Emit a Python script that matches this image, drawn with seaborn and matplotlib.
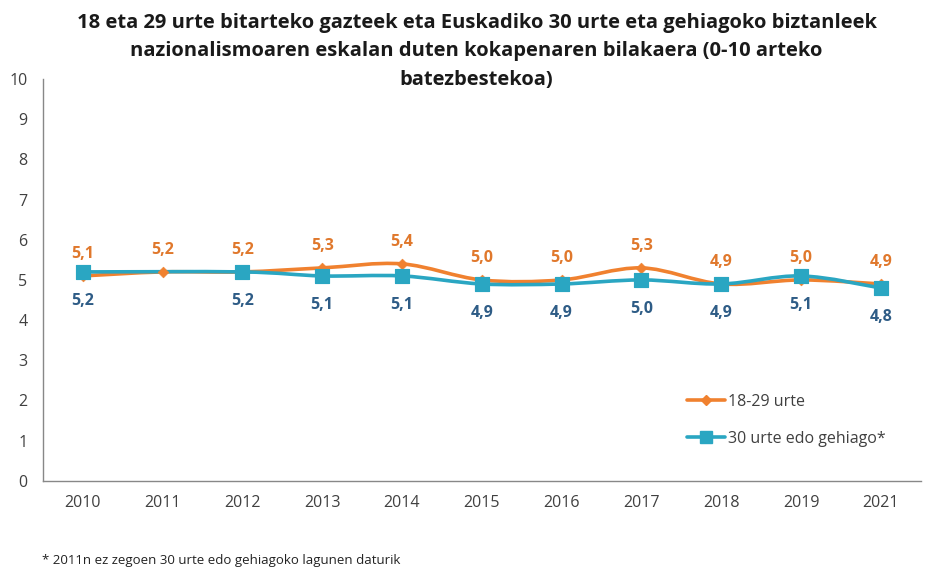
import numpy as np
import pandas as pd
import matplotlib
matplotlib.use("Agg")
import matplotlib.pyplot as plt
from matplotlib.path import Path
from matplotlib.patches import PathPatch
import seaborn as sns

years = ["2010", "2011", "2012", "2013", "2014", "2015", "2016", "2017", "2018", "2019", "2021"]
young = [5.1, 5.2, 5.2, 5.3, 5.4, 5.0, 5.0, 5.3, 4.9, 5.0, 4.9]
older = [5.2, np.nan, 5.2, 5.1, 5.1, 4.9, 4.9, 5.0, 4.9, 5.1, 4.8]

title = ("18 eta 29 urte bitarteko gazteek eta Euskadiko 30 urte eta gehiagoko biztanleek\n"
         "nazionalismoaren eskalan duten kokapenaren bilakaera (0-10 arteko\n"
         "batezbestekoa)")
note = "* 2011n ez zegoen 30 urte edo gehiagoko lagunen daturik"

orange = "#F0812F"
teal = "#2AA6C2"
orange_txt = "#E0782C"
blue_txt = "#2E5C86"
grey = "#404040"

sns.set_style("white")
plt.rcParams["font.family"] = ["Open Sans", "DejaVu Sans"]

df = pd.DataFrame({"pos": range(len(years)), "year": years,
                   "18-29 urte": young, "30 urte edo gehiago*": older})


def smooth_path(xs, ys):
    # excel-like smoothed line: catmull-rom as cubic bezier
    pts = [(x, y) for x, y in zip(xs, ys) if not np.isnan(y)]
    pts = np.array(pts, dtype=float)
    verts = [pts[0]]
    codes = [Path.MOVETO]
    n = len(pts)
    for i in range(n - 1):
        p0 = pts[max(i - 1, 0)]
        p1 = pts[i]
        p2 = pts[i + 1]
        p3 = pts[min(i + 2, n - 1)]
        c1 = p1 + (p2 - p0) / 6
        c2 = p2 - (p3 - p1) / 6
        verts += [c1, c2, p2]
        codes += [Path.CURVE4] * 3
    return Path(verts, codes)


fig, ax = plt.subplots(figsize=(9.31, 5.69), dpi=100)
fig.subplots_adjust(left=0.046, right=0.989, bottom=0.155, top=0.861)

ax.add_patch(PathPatch(smooth_path(df["pos"], df["18-29 urte"]), fill=False,
                       edgecolor=orange, lw=2.6, zorder=2))
ax.add_patch(PathPatch(smooth_path(df["pos"], df["30 urte edo gehiago*"]), fill=False,
                       edgecolor=teal, lw=2.6, zorder=2))

sns.scatterplot(data=df, x="pos", y="18-29 urte", marker="D", s=30, color=orange,
                edgecolor=orange, ax=ax, zorder=3)
sns.scatterplot(data=df, x="pos", y="30 urte edo gehiago*", marker="s", s=110, color=teal,
                edgecolor=teal, ax=ax, zorder=4)

for x, v in zip(df["pos"], young):
    ax.annotate(f"{v:.1f}".replace(".", ","), (x, v), xytext=(0, 16), textcoords="offset points",
                ha="center", va="center", color=orange_txt, fontsize=11.5, fontweight="bold")
for x, v in zip(df["pos"], older):
    if np.isnan(v):
        continue
    ax.annotate(f"{v:.1f}".replace(".", ","), (x, v), xytext=(0, -21), textcoords="offset points",
                ha="center", va="center", color=blue_txt, fontsize=11.5, fontweight="bold")

# legend with line+marker handles
h1, = ax.plot([], [], color=orange, lw=2.6, marker="D", ms=5, label="18-29 urte")
h2, = ax.plot([], [], color=teal, lw=2.6, marker="s", ms=9, label="30 urte edo gehiago*")
leg = ax.legend(handles=[h1, h2], loc="upper left", bbox_to_anchor=(0.717, 0.252), frameon=False,
                fontsize=11.5, handlelength=2.4, labelspacing=1.3, handletextpad=0.2)
for t in leg.get_texts():
    t.set_color(grey)

ax.set_xlim(-0.5, len(years) - 0.5)
ax.set_ylim(0, 10)
ax.set_yticks(range(0, 11))
ax.set_xticks(df["pos"])
ax.set_xticklabels(years)
ax.set_xticks(np.arange(-0.5, len(years), 1.0), minor=True)
ax.tick_params(axis="x", which="major", length=0, pad=10, labelsize=11.5, colors=grey)
ax.tick_params(axis="x", which="minor", length=5, width=1, color="#888888", direction="out")
ax.tick_params(axis="y", length=5, width=1, color="#888888", labelsize=11.5, labelcolor=grey, pad=6)
ax.set_xlabel("")
ax.set_ylabel("")
sns.despine(ax=ax)
for s in ("left", "bottom"):
    ax.spines[s].set_color("#888888")
    ax.spines[s].set_linewidth(1)

fig.suptitle(title, x=0.512, y=0.977, fontsize=14.5, fontweight="bold", color="#1a1a1a",
             linespacing=1.55)
fig.text(0.045, 0.003, note, fontsize=9.5, color="#222222", va="bottom")

fig.savefig("out.png", dpi=100)
